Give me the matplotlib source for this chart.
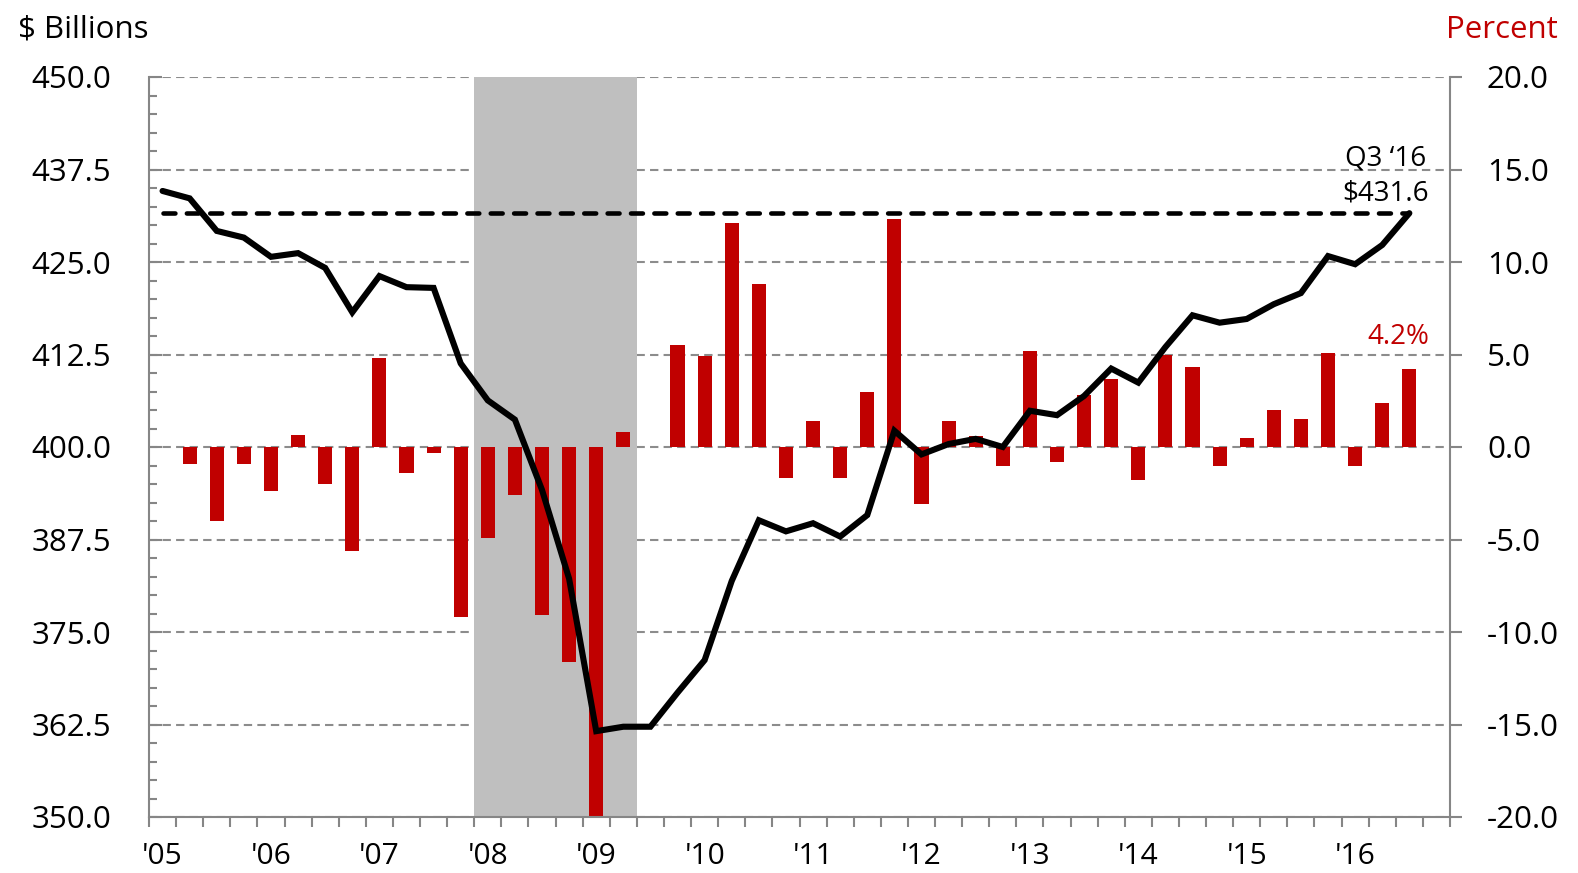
import matplotlib
matplotlib.use("Agg")
import matplotlib.pyplot as plt
import numpy as np
from matplotlib.ticker import MultipleLocator, FixedLocator, FuncFormatter

plt.rcParams['font.family'] = ['Open Sans', 'DejaVu Sans']

# ---------------- data ----------------
year_labels = ["'05", "'06", "'07", "'08", "'09", "'10", "'11", "'12", "'13", "'14", "'15", "'16"]
n_slots = 48  # 2005Q1 .. 2016Q4

# level, $ billions, 2005Q1 .. 2016Q3
billions = [434.6, 433.6, 429.2, 428.3, 425.7, 426.2, 424.2, 418.2, 423.1, 421.6,
            421.5, 411.3, 406.3, 403.7, 394.2, 382.2, 361.6, 362.2, 362.2, 366.8,
            371.2, 381.9, 390.1, 388.6, 389.7, 387.9, 390.8, 402.2, 399.0, 400.4,
            401.1, 400.0, 404.9, 404.3, 406.9, 410.6, 408.7, 413.5, 417.8, 416.8,
            417.3, 419.3, 420.8, 425.8, 424.7, 427.3, 431.6]

# growth, percent, 2005Q2 .. 2016Q3
growth = [-0.9, -4.0, -0.9, -2.4, 0.65, -2.0, -5.6, 4.8, -1.4, -0.3,
          -9.2, -4.9, -2.6, -9.1, -11.6, -20.0, 0.8, 0.0, 5.5, 4.9,
          12.1, 8.8, -1.7, 1.4, -1.7, 3.0, 12.3, -3.1, 1.4, 0.6,
          -1.0, 5.2, -0.8, 2.8, 3.7, -1.8, 5.0, 4.3, -1.0, 0.5,
          2.0, 1.5, 5.1, -1.0, 2.4, 4.2]

recession_first, recession_last = 12, 17   # 2008Q1 .. 2009Q2
last_label = "Q3 \u201816"

# ---------------- style ----------------
RED = '#C00000'
GRAY = '#868686'
GRID = '#8c8c8c'
SHADE = '#BFBFBF'

fig = plt.figure(figsize=(15.78, 8.73), dpi=100)
ax = fig.add_axes([149/1578, 1-817/873, (1450-149)/1578, (817-77)/873])
ax2 = ax.twinx()
ax.set_zorder(2)
ax2.set_zorder(1)
ax.patch.set_visible(False)

x_line = np.arange(len(billions))
x_bar = np.arange(1, len(growth) + 1)

# bottom layer (percent axis): grid, recession, bars
ax2.set_ylim(-20, 20)
ax2.yaxis.set_major_locator(MultipleLocator(5))
ax2.set_axisbelow(True)
ax2.yaxis.grid(True, color=GRID, lw=1.5, linestyle=(0, (4, 2.5)))
ax2.axvspan(recession_first - 0.5, recession_last + 0.5, color=SHADE, zorder=1, lw=0)
ax2.bar(x_bar, growth, width=0.52, color=RED, zorder=2)

# top layer (billions axis): line, dashed reference
ax.set_xlim(-0.5, n_slots - 0.5)
ax.set_ylim(350, 450)
ax.plot([x_line[0], x_line[-1]], [billions[-1], billions[-1]], color='black', lw=3.3,
        linestyle=(0, (2.6, 2.5)), dash_capstyle='round', zorder=3)
ax.plot(x_line, billions, color='black', lw=4.4, solid_capstyle='round',
        solid_joinstyle='miter', zorder=4)

# annotations
ax.annotate(f"${billions[-1]:.1f}", xy=(x_line[-1], billions[-1]), xytext=(14.4, 9.4),
            textcoords='offset points', ha='right', va='baseline', fontsize=20)
ax.annotate(last_label, xy=(x_line[-1], billions[-1]), xytext=(12.4, 34),
            textcoords='offset points', ha='right', va='baseline', fontsize=20)
ax2.annotate(f"{growth[-1]:.1f}%", xy=(x_bar[-1], growth[-1]), xytext=(14.4, 18.5),
             textcoords='offset points', ha='right', va='baseline', fontsize=20, color=RED)

# axes formatting
fmt = FuncFormatter(lambda v, p: f"{v:.1f}")
ax.yaxis.set_major_locator(MultipleLocator(12.5))
ax.yaxis.set_minor_locator(MultipleLocator(2.5))
ax.yaxis.set_major_formatter(fmt)
ax2.yaxis.set_major_formatter(fmt)

ax.xaxis.set_major_locator(FixedLocator(list(range(0, n_slots, 4))))
ax.set_xticklabels(year_labels)
ax.xaxis.set_minor_locator(FixedLocator(list(np.arange(-0.5, n_slots, 1.0))))

ax.tick_params(axis='y', which='major', direction='in', length=9, width=1.5, color=GRAY,
               pad=27, labelsize=22.5)
ax.tick_params(axis='y', which='minor', direction='in', length=6, width=1.5, color=GRAY)
ax.tick_params(axis='x', which='major', length=0, pad=18, labelsize=21.5)
ax.tick_params(axis='x', which='minor', direction='out', length=7, width=1.5, color=GRAY)
ax2.tick_params(axis='y', which='major', direction='out', length=8.6, width=1.5, color=GRAY,
                pad=18, labelsize=22.5)

for s in ['top', 'right']:
    ax.spines[s].set_visible(False)
for s in ['top', 'left', 'bottom']:
    ax2.spines[s].set_visible(False)
for s in ['left', 'bottom']:
    ax.spines[s].set_color(GRAY)
    ax.spines[s].set_linewidth(1.5)
ax2.spines['right'].set_color(GRAY)
ax2.spines['right'].set_linewidth(1.5)

fig.text(18/1578, 1-38/873, "$ Billions", ha='left', va='baseline', fontsize=22.5)
fig.text(1558/1578, 1-38/873, "Percent", ha='right', va='baseline', fontsize=22.5, color=RED)

fig.savefig("out.png", dpi=100)
